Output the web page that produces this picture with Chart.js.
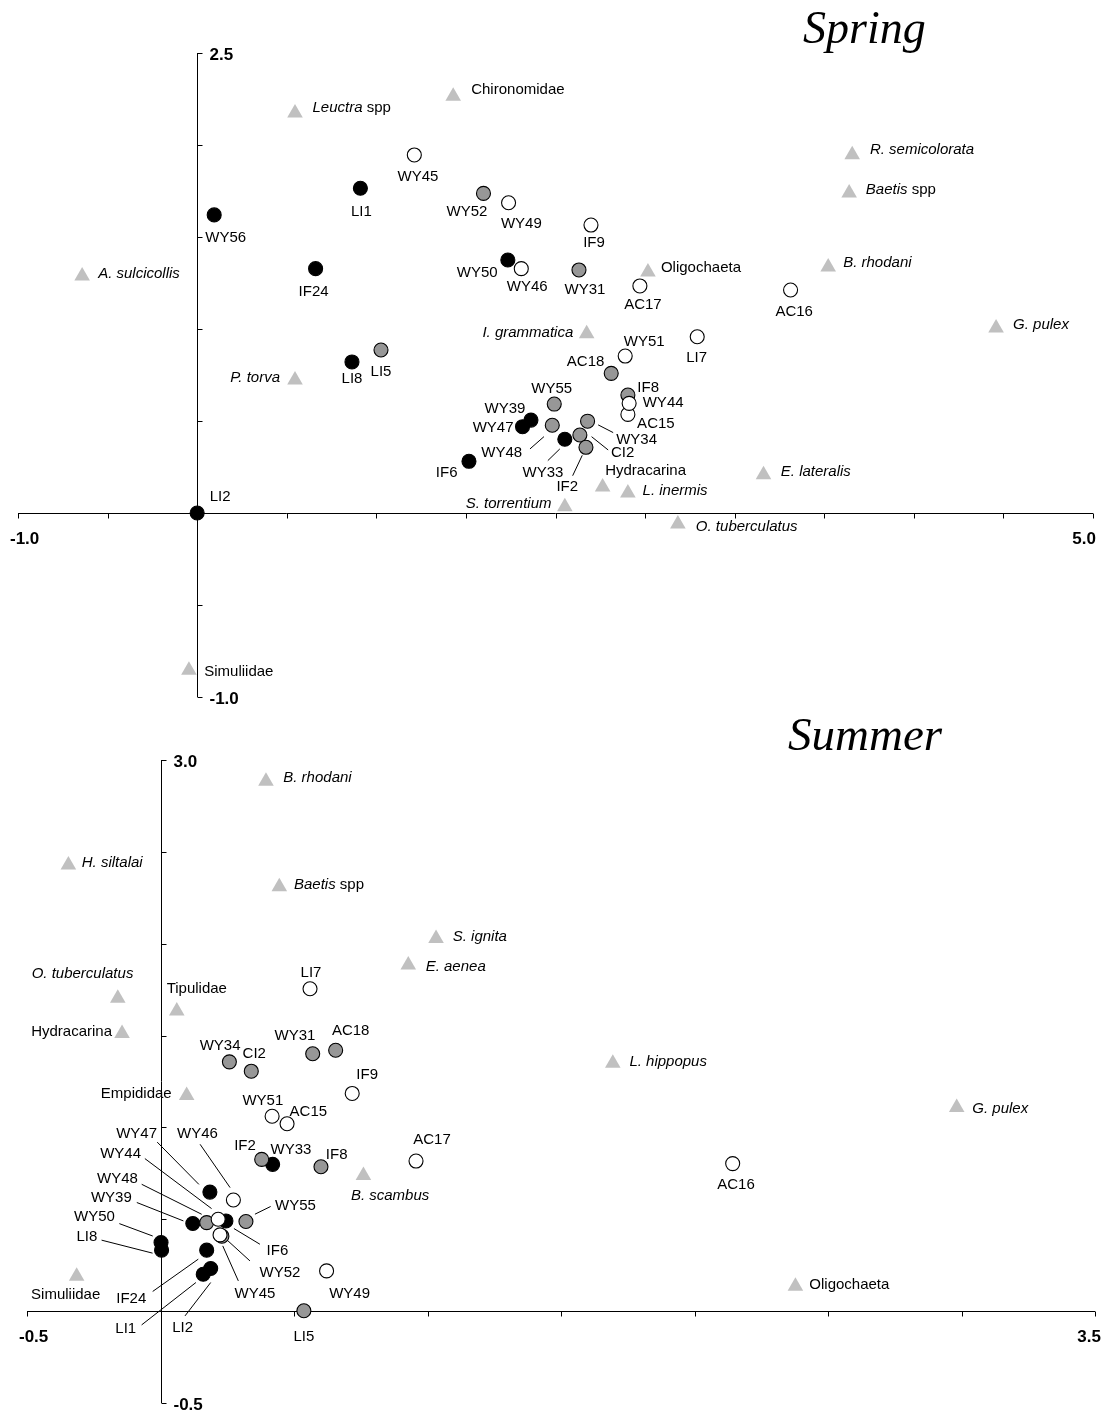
<!DOCTYPE html>
<html>
<head>
<meta charset="utf-8">
<script src="https://cdn.jsdelivr.net/npm/chart.js@4.4.1/dist/chart.umd.min.js"></script>
<style>
  html, body { margin: 0; padding: 0; background: #fff; }
  #wrap { position: relative; width: 1111px; height: 1412px; }
  canvas { position: absolute; left: 0; }
</style>
</head>
<body>
<div id="wrap">
  <canvas id="spring" width="1111" height="706" style="top:0"></canvas>
  <canvas id="summer" width="1111" height="706" style="top:706px"></canvas>
</div>
<script>
// ---------- Spring ordination ----------
const springSites = ['LI2', 'WY56', 'LI1', 'IF24', 'WY50', 'LI8', 'WY39', 'WY47', 'WY33', 'IF6',
  'WY52', 'WY31', 'LI5', 'AC18', 'IF8', 'WY55', 'WY48', 'WY34', 'CI2', 'IF2',
  'WY45', 'WY49', 'WY46', 'IF9', 'AC17', 'AC16', 'WY51', 'LI7', 'AC15', 'WY44'];
const springSiteX = [0.000, 0.095, 0.911, 0.661, 1.734, 0.864, 1.863, 1.816, 2.052, 1.517,
  1.598, 2.131, 1.026, 2.311, 2.404, 1.993, 1.982, 2.179, 2.136, 2.170,
  1.212, 1.738, 1.809, 2.198, 2.471, 3.312, 2.389, 2.791, 2.404, 2.411];
const springSiteY = [0.000, 1.620, 1.765, 1.328, 1.375, 0.821, 0.505, 0.469, 0.401, 0.281,
  1.737, 1.321, 0.886, 0.759, 0.641, 0.592, 0.477, 0.499, 0.424, 0.357,
  1.946, 1.686, 1.328, 1.565, 1.234, 1.212, 0.853, 0.958, 0.536, 0.596];
const springSiteType = ['black', 'black', 'black', 'black', 'black', 'black', 'black', 'black', 'black', 'black',
  'grey', 'grey', 'grey', 'grey', 'grey', 'grey', 'grey', 'grey', 'grey', 'grey',
  'white', 'white', 'white', 'white', 'white', 'white', 'white', 'white', 'white', 'white'];

const springTaxa = ['Leuctra spp', 'Chironomidae', 'A. sulcicollis', 'R. semicolorata', 'Baetis spp',
  'B. rhodani', 'G. pulex', 'E. lateralis', 'Oligochaeta', 'I. grammatica', 'P. torva',
  'Hydracarina', 'L. inermis', 'S. torrentium', 'O. tuberculatus', 'Simuliidae'];
const springTaxaX = [0.546, 1.429, -0.642, 3.656, 3.639, 3.522, 4.459, 3.161, 2.516, 2.174, 0.546,
  2.263, 2.404, 2.052, 2.683, -0.046];
const springTaxaY = [2.174, 2.265, 1.288, 1.947, 1.739, 1.337, 1.005, 0.208, 1.310, 0.974, 0.723,
  0.141, 0.109, 0.034, -0.060, -0.855];

const springXTicks = [-1.0, -0.5, 0, 0.5, 1.0, 1.5, 2.0, 2.5, 3.0, 3.5, 4.0, 4.5, 5.0];
const springYTicks = [-1.0, -0.5, 0, 0.5, 1.0, 1.5, 2.0, 2.5];

// ---------- Summer ordination ----------
const summerSites = ['WY50', 'LI8', 'IF24', 'LI2', 'LI1', 'WY39', 'WY47', 'IF6', 'WY33',
  'WY34', 'CI2', 'WY31', 'AC18', 'IF2', 'IF8', 'WY48', 'WY55', 'WY52', 'LI5',
  'LI7', 'IF9', 'WY51', 'AC15', 'AC17', 'AC16', 'WY46', 'WY44', 'WY45', 'WY49'];
const summerSiteX = [0.002, 0.004, 0.173, 0.188, 0.160, 0.121, 0.185, 0.245, 0.420,
  0.258, 0.340, 0.570, 0.656, 0.379, 0.601, 0.173, 0.320, 0.230, 0.537,
  0.560, 0.718, 0.418, 0.474, 0.957, 2.143, 0.273, 0.216, 0.223, 0.622];
const summerSiteY = [0.373, 0.332, 0.332, 0.232, 0.201, 0.477, 0.648, 0.491, 0.799,
  1.357, 1.306, 1.401, 1.420, 0.826, 0.786, 0.482, 0.488, 0.408, 0.002,
  1.755, 1.185, 1.061, 1.020, 0.817, 0.803, 0.605, 0.500, 0.415, 0.219];
const summerSiteType = ['black', 'black', 'black', 'black', 'black', 'black', 'black', 'black', 'black',
  'grey', 'grey', 'grey', 'grey', 'grey', 'grey', 'grey', 'grey', 'grey', 'grey',
  'white', 'white', 'white', 'white', 'white', 'white', 'white', 'white', 'white', 'white'];

const summerTaxa = ['B. rhodani', 'H. siltalai', 'Baetis spp', 'S. ignita', 'E. aenea',
  'O. tuberculatus', 'Tipulidae', 'Hydracarina', 'Empididae', 'L. hippopus', 'G. pulex',
  'B. scambus', 'Oligochaeta', 'Simuliidae'];
const summerTaxaX = [0.395, -0.345, 0.445, 1.032, 0.928, -0.160, 0.061, -0.144, 0.098, 1.694, 2.982,
  0.760, 2.378, -0.314];
const summerTaxaY = [2.884, 2.428, 2.310, 2.029, 1.884, 1.703, 1.634, 1.511, 1.174, 1.349, 1.109,
  0.739, 0.136, 0.190];

const summerXTicks = [-0.5, 0, 0.5, 1.0, 1.5, 2.0, 2.5, 3.0, 3.5];
const summerYTicks = [-0.5, 0, 0.5, 1.0, 1.5, 2.0, 2.5, 3.0];

// label placement (pixel offsets from the marker): [dx, dy, align, leader line]
const springLabelPos = {
  'WY45': [3.6, 21.7], 'LI1': [1, 23.4], 'WY52': [-16.5, 18.4], 'WY49': [12.8, 20.6],
  'WY56': [11.6, 22.7], 'IF24': [-2, 23], 'WY50': [-30.6, 13.3], 'WY46': [6, 18],
  'IF9': [3, 18], 'WY31': [6, 20], 'AC17': [3, 19], 'AC16': [3.6, 21.7], 'LI5': [0, 22],
  'LI8': [0, 17], 'LI2': [23, -16.3], 'WY51': [19, -14.3], 'LI7': [-0.6, 21.6],
  'AC18': [-25.6, -11.6], 'IF8': [20.3, -6.7], 'WY44': [34, 0], 'AC15': [28, 9],
  'WY55': [-2.6, -15.7], 'WY39': [-26, -11.7], 'WY47': [-29.4, 1], 'IF6': [-22.3, 12],
  'WY48': [-50.6, 28, 'center', [-22.3, 23.7, -8.3, 11.4]],
  'WY33': [-21.8, 33.4, 'center', [-17, 21.4, -5, 9.7]],
  'WY34': [49, 18.7, 'center', [10.6, 3.7, 25.6, 11.4]],
  'CI2': [42.7, 18.3, 'center', [11.7, 1.7, 28.3, 15]],
  'IF2': [-18.7, 39.4, 'center', [-13.3, 28.4, -3.7, 8]],
  'Leuctra spp': [17.5, -5, 'left'], 'Chironomidae': [18, -6.3, 'left'],
  'A. sulcicollis': [16, -2, 'left'], 'R. semicolorata': [17.7, -4.7, 'left'],
  'Baetis spp': [16.7, -3, 'left'], 'B. rhodani': [15, -3.7, 'left'], 'G. pulex': [17, -3, 'left'],
  'E. lateralis': [17.3, -3, 'left'], 'Oligochaeta': [13, -4, 'left'],
  'I. grammatica': [-13.4, -1.4, 'right'], 'P. torva': [-15, -2, 'right'],
  'Hydracarina': [43, -16.3, 'center'], 'L. inermis': [14.7, -2, 'left'],
  'S. torrentium': [-13.3, -3.4, 'right'], 'O. tuberculatus': [18, 2.7, 'left'],
  'Simuliidae': [15.3, 1.4, 'left']
};

const summerLabelPos = {
  'LI7': [1, -16.3], 'WY34': [-9.3, -15.6], 'CI2': [3, -17.4], 'WY31': [-17.7, -18.3],
  'AC18': [15, -19], 'IF9': [15, -19], 'WY51': [-9.3, -15.7], 'AC15': [21.3, -12],
  'IF2': [-16.7, -13.3], 'WY33': [18.3, -14], 'IF8': [15.7, -12.3], 'AC17': [16, -21],
  'AC16': [3.3, 21.7], 'WY49': [23, 22.6], 'LI5': [0, 25.6],
  'WY47': [-73.3, -58.4, 'center', [-52.7, -50, -11, -7.7]],
  'WY46': [-36, -66.4, 'center', [-33.3, -55.7, -3.3, -12.4]],
  'WY44': [-97.6, -65, 'center', [-73.3, -60.7, -6.6, -10.7]],
  'WY48': [-89.2, -43.3, 'center', [-65, -38.3, -5, -8.3]],
  'WY39': [-81.5, -25.3, 'center', [-56, -21, -9.4, -2.6]],
  'IF6': [51.5, 30, 'center', [34, 23.3, 8, 7.6]],
  'WY55': [49.5, -15.6, 'center', [9, -7.3, 24.7, -15]],
  'WY52': [58, 36.3, 'center', [28, 24.7, 5.3, 4]],
  'WY45': [35, 58.6, 'center', [18.3, 46, 2.7, 11]],
  'WY50': [-66.5, -26, 'center', [-41.7, -19, -8.3, -6.6]],
  'LI8': [-74.7, -13.7, 'center', [-60, -10, -9, 3]],
  'IF24': [-75.4, 49, 'center', [-54, 41.3, -8.4, 9]],
  'LI2': [-28, 59, 'center', [-25.7, 47.4, 0, 14]],
  'LI1': [-77.5, 54.3, 'center', [-61.6, 50.7, -7.3, 8.3]],
  'B. rhodani': [17.3, -3.3, 'left'], 'H. siltalai': [13.4, -2.3, 'left'],
  'Baetis spp': [14.7, -2, 'left'], 'S. ignita': [16.7, -2, 'left'], 'E. aenea': [17.4, 1.4, 'left'],
  'O. tuberculatus': [15.6, -24.7, 'right'], 'Tipulidae': [20, -22, 'center'],
  'Hydracarina': [-10, -2, 'right'], 'Empididae': [-15, -2, 'right'],
  'L. hippopus': [16.6, -1, 'left'], 'G. pulex': [15.6, 1.3, 'left'],
  'B. scambus': [26.7, 20.7, 'center'], 'Oligochaeta': [13.9, -1.3, 'left'],
  'Simuliidae': [-11, 19, 'center']
};

const LABEL_FONT = '15px "Liberation Sans", Arial, sans-serif';
const LABEL_FONT_IT = 'italic 15px "Liberation Sans", Arial, sans-serif';
const AXIS_FONT = 'bold 17px "Liberation Sans", Arial, sans-serif';

const siteStyle = {
  black: { bg: '#000000', order: 3 },
  grey: { bg: '#979797', order: 2 },
  white: { bg: '#ffffff', order: 1 }
};

// split a taxon name into italic / upright pieces
function nameParts(name, isTaxon) {
  if (!isTaxon) return [[name, false]];
  if (/^[A-Z]\. /.test(name)) return [[name, true]];
  if (name.endsWith(' spp')) return [[name.slice(0, -4), true], [' spp', false]];
  return [[name, false]];
}

function drawText(ctx, parts, x, y, align) {
  let total = 0;
  const widths = parts.map(([t, it]) => {
    ctx.font = it ? LABEL_FONT_IT : LABEL_FONT;
    const w = ctx.measureText(t).width;
    total += w;
    return w;
  });
  let cx = align === 'left' ? x : align === 'right' ? x - total : x - total / 2;
  ctx.textAlign = 'left';
  ctx.textBaseline = 'middle';
  parts.forEach(([t, it], i) => {
    ctx.font = it ? LABEL_FONT_IT : LABEL_FONT;
    ctx.fillText(t, cx, y);
    cx += widths[i];
  });
}

const ordinationPlugin = {
  id: 'ordination',
  beforeDatasetsDraw(chart, args, opts) {
    const ctx = chart.ctx;
    const xs = chart.scales.x, ys = chart.scales.y;
    const xt = opts.xTicks, yt = opts.yTicks;
    const ax = Math.round(xs.getPixelForValue(0)) + 0.5;
    const ay = Math.round(ys.getPixelForValue(0)) + 0.5;
    const xL = xs.getPixelForValue(xt[0]), xR = xs.getPixelForValue(xt[xt.length - 1]);
    const yB = ys.getPixelForValue(yt[0]), yT = ys.getPixelForValue(yt[yt.length - 1]);
    ctx.save();
    ctx.strokeStyle = '#000';
    ctx.lineWidth = 1;
    ctx.beginPath();
    ctx.moveTo(xL, ay); ctx.lineTo(xR, ay);
    xt.forEach(v => {
      const px = Math.round(xs.getPixelForValue(v)) + 0.5;
      ctx.moveTo(px, ay); ctx.lineTo(px, ay + 5);
    });
    ctx.moveTo(ax, yT); ctx.lineTo(ax, yB);
    yt.forEach(v => {
      const py = Math.round(ys.getPixelForValue(v)) + 0.5;
      ctx.moveTo(ax, py); ctx.lineTo(ax + 5, py);
    });
    ctx.stroke();

    ctx.fillStyle = '#000';
    ctx.font = AXIS_FONT;
    ctx.textBaseline = 'middle';
    ctx.textAlign = 'left';
    ctx.fillText(xt[0].toFixed(1), xL - 8, ay + 26);
    ctx.fillText(yt[yt.length - 1].toFixed(1), ax + 12, yT + 2);
    ctx.fillText(yt[0].toFixed(1), ax + 12, yB + 2);
    ctx.textAlign = 'right';
    ctx.fillText(xt[xt.length - 1].toFixed(1), xR + opts.endPad, ay + 26);
    ctx.restore();
  },
  afterDatasetsDraw(chart, args, opts) {
    const ctx = chart.ctx;
    ctx.save();
    ctx.fillStyle = '#000';
    ctx.strokeStyle = '#000';
    ctx.lineWidth = 1;
    chart.data.datasets.forEach((ds, di) => {
      const meta = chart.getDatasetMeta(di);
      ds.data.forEach((d, i) => {
        const el = meta.data[i];
        const pos = opts.labelPos[d.name] || [0, 20];
        const align = pos[2] || 'center';
        if (pos[3]) {
          const l = pos[3];
          ctx.beginPath();
          ctx.moveTo(el.x + l[0], el.y + l[1]);
          ctx.lineTo(el.x + l[2], el.y + l[3]);
          ctx.stroke();
        }
        drawText(ctx, nameParts(d.name, ds.isTaxon), el.x + pos[0], el.y + pos[1], align);
      });
    });
    ctx.font = opts.titleFont;
    ctx.textAlign = 'left';
    ctx.textBaseline = 'alphabetic';
    ctx.fillText(opts.title, opts.titleX, opts.titleY);
    ctx.restore();
  }
};

function buildDatasets(sites, sx, sy, stype, taxa, tx, ty) {
  const sets = [{
    isTaxon: true,
    data: taxa.map((n, i) => ({ x: tx[i], y: ty[i], name: n })),
    pointStyle: 'triangle',
    pointRadius: 9,
    backgroundColor: '#c0c0c0',
    borderColor: '#c0c0c0',
    borderWidth: 0,
    order: 4,
    clip: false
  }];
  ['black', 'grey', 'white'].forEach(t => {
    const data = [];
    sites.forEach((n, i) => { if (stype[i] === t) data.push({ x: sx[i], y: sy[i], name: n }); });
    sets.push({
      isTaxon: false,
      data: data,
      pointStyle: 'circle',
      pointRadius: 7,
      backgroundColor: siteStyle[t].bg,
      borderColor: '#000',
      borderWidth: 1.1,
      order: siteStyle[t].order,
      clip: false
    });
  });
  return sets;
}

function makeChart(id, datasets, xTicks, yTicks, padding, labelPos, title) {
  return new Chart(document.getElementById(id), {
    type: 'scatter',
    data: { datasets: datasets },
    options: {
      responsive: false,
      animation: false,
      devicePixelRatio: 1,
      events: [],
      layout: { padding: padding },
      scales: {
        x: { type: 'linear', min: xTicks[0], max: xTicks[xTicks.length - 1], display: false },
        y: { type: 'linear', min: yTicks[0], max: yTicks[yTicks.length - 1], display: false }
      },
      plugins: {
        legend: { display: false },
        tooltip: { enabled: false },
        ordination: Object.assign({ xTicks: xTicks, yTicks: yTicks, labelPos: labelPos }, title)
      }
    },
    plugins: [ordinationPlugin]
  });
}

makeChart('spring',
  buildDatasets(springSites, springSiteX, springSiteY, springSiteType, springTaxa, springTaxaX, springTaxaY),
  springXTicks, springYTicks,
  { top: 53, bottom: 9, left: 18, right: 18 },
  springLabelPos,
  { title: 'Spring', titleX: 803, titleY: 43, endPad: 3,
    titleFont: 'italic 46px "Liberation Serif", "Times New Roman", serif' });

makeChart('summer',
  buildDatasets(summerSites, summerSiteX, summerSiteY, summerSiteType, summerTaxa, summerTaxaX, summerTaxaY),
  summerXTicks, summerYTicks,
  { top: 54, bottom: 8, left: 27, right: 16 },
  summerLabelPos,
  { title: 'Summer', titleX: 788, titleY: 44, endPad: 6,
    titleFont: 'italic 47px "Liberation Serif", "Times New Roman", serif' });
</script>
</body>
</html>
